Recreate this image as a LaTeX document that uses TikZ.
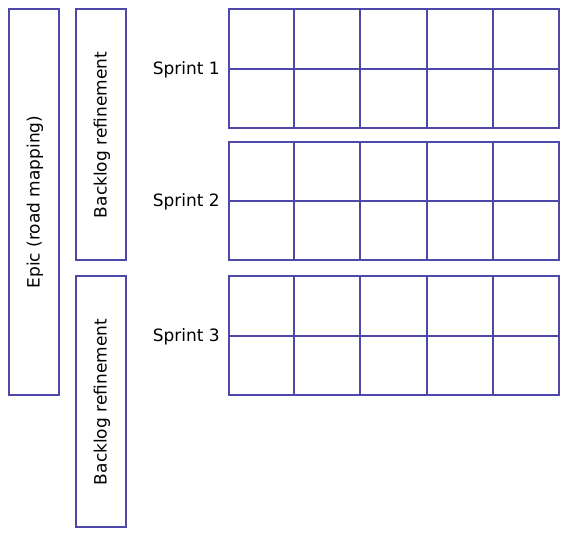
\documentclass[tikz,border=0pt]{standalone}
\usepackage{fontspec}
\setmainfont{DejaVu Sans}
\definecolor{frame}{RGB}{80,72,168}
\begin{document}
\begin{tikzpicture}[x=1pt,y=-1pt,
  box/.style={draw=frame,line width=1.8pt},
  lbl/.style={font=\fontsize{17}{20}\selectfont,text=black,inner sep=0pt},
  gridline/.style={draw=frame,line width=1.8pt}]
\useasboundingbox (0,0) rectangle (572,539);
% left bars
\draw[box] (9,9) rectangle (59,395);
\node[lbl,rotate=90] (epic) at (35,202) {Epic (road mapping)};
\draw[box] (76,9) rectangle (126,260);
\node[lbl,rotate=90] (br1) at (102,135) {Backlog refinement};
\draw[box] (76,276) rectangle (126,527);
\node[lbl,rotate=90] (br2) at (102,402) {Backlog refinement};
% grids
\foreach \t/\m/\b/\n in {9/69/128/1, 142/201/260/2, 276/336/395/3}{
  \draw[gridline] (229,\t) rectangle (559,\b);
  \draw[gridline] (229,\m) -- (559,\m);
  \foreach \x in {294,360,427,493}{\draw[gridline] (\x,\t) -- (\x,\b);}
  \node[lbl,anchor=east] (s\n) at (220,\m+1) {Sprint \n};
}
\end{tikzpicture}
\end{document}
